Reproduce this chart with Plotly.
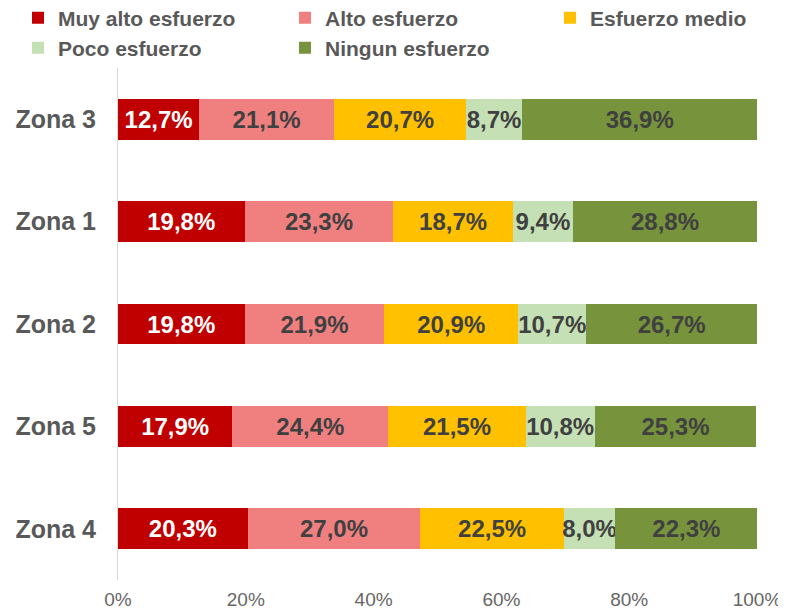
import plotly.graph_objects as go

zones = ["Zona 3", "Zona 1", "Zona 2", "Zona 5", "Zona 4"]
series_names = ["Muy alto esfuerzo", "Alto esfuerzo", "Esfuerzo medio", "Poco esfuerzo", "Ningun esfuerzo"]
muy_alto = [12.7, 19.8, 19.8, 17.9, 20.3]
alto = [21.1, 23.3, 21.9, 24.4, 27.0]
medio = [20.7, 18.7, 20.9, 21.5, 22.5]
poco = [8.7, 9.4, 10.7, 10.8, 8.0]
ninguno = [36.9, 28.8, 26.7, 25.3, 22.3]
x_ticks = [0, 20, 40, 60, 80, 100]
x_tick_labels = ["0%", "20%", "40%", "60%", "80%", "100%"]

colors = ["#C00000", "#F08080", "#FFC000", "#C5E0B4", "#77933C"]
text_colors = ["#FFFFFF", "#404040", "#404040", "#404040", "#404040"]
values = [muy_alto, alto, medio, poco, ninguno]

# page body has an 8px margin, so the figure is sized/placed to compensate
W, H = 778, 604
legend_ids = ["legend", "legend2", "legend3", "legend4", "legend5"]
legend_pos = [(10, 10), (277, 10), (542, 10), (10, 40), (277, 40)]

def fmt(v):
    return f"{v:.1f}%".replace(".", ",")

fig = go.Figure()
for name, vals, col, tcol, lid in zip(series_names, values, colors, text_colors, legend_ids):
    fig.add_trace(go.Bar(
        y=zones, x=vals, name=name, orientation="h", legend=lid,
        marker=dict(color=col, line=dict(width=0)),
        text=[fmt(v) for v in vals], textposition="inside",
        insidetextanchor="middle", constraintext="none",
        textfont=dict(color=tcol, size=24, family="Liberation Sans", weight="bold"),
        hoverinfo="skip",
    ))

legends = {}
for lid, (lx, ly) in zip(legend_ids, legend_pos):
    legends[lid] = dict(
        xref="container", yref="container",
        x=lx / W, y=1 - ly / H, xanchor="left", yanchor="middle",
        itemwidth=30, bgcolor="rgba(0,0,0,0)", borderwidth=0,
        font=dict(size=21, color="#595959", family="Liberation Sans", weight="bold"),
    )

fig.update_layout(
    barmode="stack", bargap=0.6,
    width=W, height=H,
    margin=dict(l=110, r=29, t=60, b=32, autoexpand=False),
    plot_bgcolor="white", paper_bgcolor="white",
    font=dict(family="Liberation Sans"),
    uniformtext=dict(minsize=24, mode="show"),
    showlegend=True,
    **legends,
)
fig.update_xaxes(
    range=[0, 100], tickvals=x_ticks, ticktext=x_tick_labels,
    showgrid=False, zeroline=False, showline=False,
    tickfont=dict(size=19, color="#666666"), ticklabelstandoff=6,
)
fig.update_yaxes(
    autorange="reversed", showgrid=False, zeroline=False,
    showline=True, linecolor="#D9D9D9", linewidth=1,
    tickfont=dict(size=25, color="#595959", weight="bold"),
    ticklabelstandoff=16,
)

fig.write_html("out.html")
